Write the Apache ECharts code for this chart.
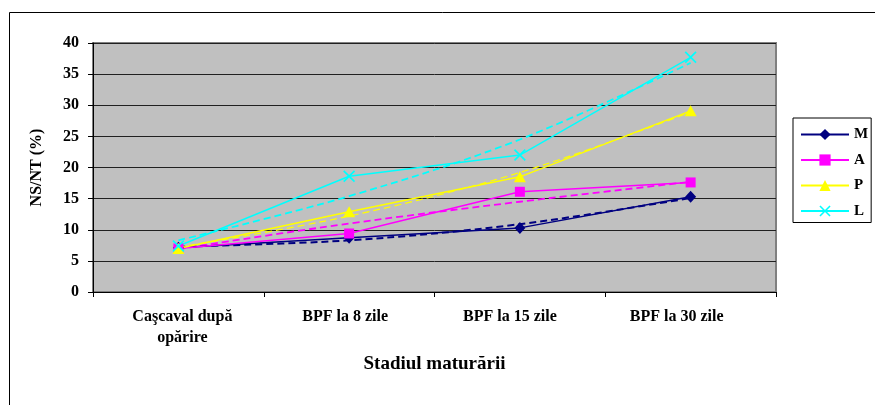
<!DOCTYPE html>
<html>
<head>
<meta charset="utf-8">
<script src="https://cdn.jsdelivr.net/npm/echarts@6/dist/echarts.min.js"></script>
<style>
  html, body { margin: 0; padding: 0; background: #ffffff; }
  #chart { width: 875px; height: 405px; }
</style>
</head>
<body>
<div id="chart"></div>
<script>
// Maturation stages (category axis)
const stages = ['Caşcaval după\nopărire', 'BPF la 8 zile', 'BPF la 15 zile', 'BPF la 30 zile'];

// Measured NS/NT (%) per sample
const seriesM = [7.1, 8.7, 10.3, 15.3];
const seriesA = [7.0, 9.4, 16.1, 17.6];
const seriesP = [7.0, 12.9, 18.5, 29.1];
const seriesL = [7.4, 18.6, 22.0, 37.7];

// Polynomial trend values at each stage
const trendM = [7.3, 8.3, 10.9, 15.1];
const trendA = [6.9, 11.0, 14.5, 17.7];
const trendP = [7.2, 12.2, 19.2, 28.9];
const trendL = [8.3, 15.4, 24.5, 36.8];

const yTicks = { min: 0, max: 40, step: 5 };

const serif = '"Liberation Serif", "Times New Roman", serif';
const crossPath = 'path://M0,1L1,0L5,4L9,0L10,1L6,5L10,9L9,10L5,6L1,10L0,9L4,5Z';

// Horizontal nudge (px) of each stage label under its tick slot
const labelShift = [4, -4, -10, -14];
const stageItems = stages.map((s, i) => ({
  value: s,
  textStyle: {
    padding: labelShift[i] >= 0 ? [0, 0, 0, 2 * labelShift[i]] : [0, -2 * labelShift[i], 0, 0]
  }
}));

function trend(name, data, color, width) {
  return {
    name: name, type: 'line', data: data, smooth: 0.35,
    symbol: 'none', silent: true, z: 2,
    lineStyle: { color: color, width: width, type: [7, 4] }
  };
}
function solid(name, data, color, symbol, size) {
  return {
    name: name, type: 'line', data: data, z: 5,
    symbol: symbol, symbolSize: size, showSymbol: true,
    lineStyle: { color: color, width: 1.5 },
    itemStyle: { color: color }
  };
}

const chart = echarts.init(document.getElementById('chart'), null, { renderer: 'canvas' });
chart.setOption({
  animation: false,
  backgroundColor: '#ffffff',
  graphic: [{
    type: 'rect', left: 7, top: 10, z: -10,
    shape: { x: 0, y: 0, width: 900, height: 420 },
    style: { fill: 'none', stroke: '#000000', lineWidth: 1 }
  }],
  grid: {
    left: 93, top: 43, right: 99, bottom: 113,
    show: true, backgroundColor: '#c0c0c0', borderColor: '#808080', borderWidth: 2
  },
  legend: {
    data: ['M', 'A', 'P', 'L'],
    orient: 'vertical', left: 793, top: 118,
    padding: [9, 3, 4, 7], itemGap: 10.5,
    itemWidth: 48, itemHeight: 14,
    backgroundColor: '#ffffff', borderColor: '#000000', borderWidth: 1,
    textStyle: { fontFamily: serif, fontWeight: 'bold', fontSize: 15, lineHeight: 14, color: '#000000' }
  },
  xAxis: {
    type: 'category', data: stageItems, boundaryGap: true,
    name: 'Stadiul maturării', nameLocation: 'middle', nameGap: 63,
    nameTextStyle: { fontFamily: serif, fontWeight: 'bold', fontSize: 19, color: '#000000' },
    axisLine: { show: true, lineStyle: { color: '#000000', width: 1 } },
    axisTick: { show: true, interval: 0, length: 5, lineStyle: { color: '#000000' } },
    axisLabel: {
      interval: 0, margin: 14, fontFamily: serif, fontWeight: 'bold',
      fontSize: 16, lineHeight: 21, color: '#000000'
    },
    splitLine: { show: false }
  },
  yAxis: {
    type: 'value', min: yTicks.min, max: yTicks.max, interval: yTicks.step,
    name: 'NS/NT (%)', nameLocation: 'middle', nameGap: 48,
    nameTextStyle: { fontFamily: serif, fontWeight: 'bold', fontSize: 16, color: '#000000' },
    axisLine: { show: true, lineStyle: { color: '#000000', width: 1 } },
    axisTick: { show: true, length: 5, lineStyle: { color: '#000000' } },
    axisLabel: { margin: 14, fontFamily: serif, fontWeight: 'bold', fontSize: 16, color: '#000000' },
    splitLine: { show: true, lineStyle: { color: '#202020', width: 1 } }
  },
  series: [
    trend('M trend', trendM, '#000080', 2),
    trend('A trend', trendA, '#ff00ff', 1.8),
    trend('P trend', trendP, '#ffff00', 1.2),
    trend('L trend', trendL, '#00ffff', 1.8),
    solid('M', seriesM, '#000080', 'diamond', [11, 12]),
    solid('A', seriesA, '#ff00ff', 'rect', 10),
    solid('P', seriesP, '#ffff00', 'triangle', [12, 11]),
    solid('L', seriesL, '#00ffff', crossPath, 12)
  ]
});
</script>
</body>
</html>
